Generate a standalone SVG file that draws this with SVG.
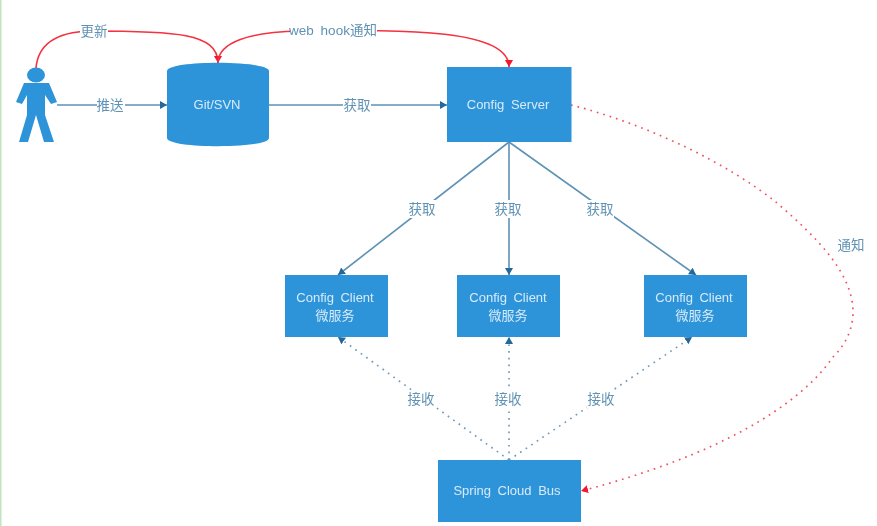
<svg xmlns="http://www.w3.org/2000/svg" width="877" height="526" viewBox="0 0 877 526">
  <style>
    .n { fill: #2f94da; }
    .nt { fill: #d6ebf9; font: 13px "Liberation Sans", "Noto Sans CJK SC", sans-serif; text-anchor: middle; word-spacing: 3px; }
    .lb { fill: #5f92b4; font: 13.5px "Liberation Sans", "Noto Sans CJK SC", sans-serif; text-anchor: middle; word-spacing: 3px; }
    .bg { fill: #fff; }
    .blue { fill: none; stroke: #5e92b5; stroke-width: 1.6; }
    .red { fill: none; stroke: #f5303f; stroke-width: 1.6; }
    .bdot { fill: none; stroke: #6f9cba; stroke-width: 1.7; stroke-dasharray: 1.7 5; }
    .rdot { fill: none; stroke: #ee5560; stroke-width: 1.7; stroke-dasharray: 1.7 5; }
  </style>
  <defs>
    <filter id="soft" x="0" y="0" width="100%" height="100%"><feGaussianBlur stdDeviation="0.35"/></filter>
    <marker id="ab" markerUnits="userSpaceOnUse" markerWidth="8" markerHeight="9" refX="7" refY="4.5" orient="auto"><path d="M0 0.500L7 4.500L0 8.500Z" fill="#24679a"/></marker>
    <marker id="ar" markerUnits="userSpaceOnUse" markerWidth="8" markerHeight="9" refX="7" refY="4.5" orient="auto"><path d="M0 0.500L7 4.500L0 8.500Z" fill="#f5142c"/></marker>
  </defs>
  <rect width="877" height="526" fill="#fff"/>
  <rect width="1.5" height="526" fill="#bfe6c0"/>

  <g filter="url(#soft)">
  <g id="connectors">
    <path class="red" marker-end="url(#ar)" d="M36 68C38 45 55 32 90 31C175 31 218 33 218 63"/>
    <path class="red" marker-end="url(#ar)" d="M218 63C218 42 250 32 300 31C400 30 509 28 509 67"/>
    <path class="blue" marker-end="url(#ab)" d="M57 105H167"/>
    <path class="blue" marker-end="url(#ab)" d="M269 105H447"/>
    <path class="blue" marker-end="url(#ab)" d="M509 142L338 275"/>
    <path class="blue" marker-end="url(#ab)" d="M509 142V275"/>
    <path class="blue" marker-end="url(#ab)" d="M509 142L696 275"/>
    <path class="bdot" marker-end="url(#ab)" d="M509 460L338 337"/>
    <path class="bdot" marker-end="url(#ab)" d="M509 460V337"/>
    <path class="bdot" marker-end="url(#ab)" d="M509 460L692 337"/>
    <path class="rdot" marker-end="url(#ar)" d="M571 105C650 125 730 165 777 203C820 240 853 275 853 312C853 330 845 345 833 357C800 405 720 455 581 491"/>
  </g>

  <g id="labels">
    <rect class="bg" x="80" y="22" width="28" height="18"/><text class="lb" x="94" y="36">更新</text>
    <rect class="bg" x="290" y="22" width="87" height="18"/><text class="lb" x="333" y="35">web hook通知</text>
    <rect class="bg" x="97" y="96" width="28" height="18"/><text class="lb" x="110" y="110">推送</text>
    <rect class="bg" x="343" y="96" width="28" height="18"/><text class="lb" x="357" y="110">获取</text>
    <rect class="bg" x="408" y="200" width="28" height="18"/><text class="lb" x="422" y="214">获取</text>
    <rect class="bg" x="494" y="200" width="28" height="18"/><text class="lb" x="508" y="214">获取</text>
    <rect class="bg" x="586" y="200" width="28" height="18"/><text class="lb" x="600" y="214">获取</text>
    <rect class="bg" x="838" y="236" width="28" height="18"/><text class="lb" x="851" y="250">通知</text>
    <rect class="bg" x="407" y="390" width="28" height="18"/><text class="lb" x="421" y="404">接收</text>
    <rect class="bg" x="494" y="390" width="28" height="18"/><text class="lb" x="508" y="404">接收</text>
    <rect class="bg" x="587" y="390" width="28" height="18"/><text class="lb" x="601" y="404">接收</text>
  </g>

  <g id="person">
    <ellipse class="n" cx="36" cy="75" rx="9" ry="7.5"/>
    <path class="n" d="M24 83L16 102L22 104L27 95V115L19 142H28L36 115L44 142H54L45 115V95L51 104L57 102L49 83Z"/>
  </g>
  <g id="git">
    <path class="n" d="M167 71C167 60 269 60 269 71V138C269 149 167 149 167 138Z"/>
    <text class="nt" x="217" y="109">Git/SVN</text>
  </g>
  <g id="server">
    <rect class="n" x="447" y="67" width="124.500" height="75"/>
    <text class="nt" x="508" y="109">Config Server</text>
  </g>
  <g id="client1">
    <rect class="n" x="285" y="275" width="103" height="62"/>
    <text class="nt" x="335" y="302">Config Client</text><text class="nt" x="335" y="320">微服务</text>
  </g>
  <g id="client2">
    <rect class="n" x="457" y="275" width="103" height="62"/>
    <text class="nt" x="508" y="302">Config Client</text><text class="nt" x="508" y="320">微服务</text>
  </g>
  <g id="client3">
    <rect class="n" x="644" y="275" width="103" height="62"/>
    <text class="nt" x="694" y="302">Config Client</text><text class="nt" x="695" y="320">微服务</text>
  </g>
  <g id="bus">
    <rect class="n" x="438" y="460" width="143" height="62"/>
    <text class="nt" x="507" y="495">Spring Cloud Bus</text>
  </g>
  </g>
</svg>
